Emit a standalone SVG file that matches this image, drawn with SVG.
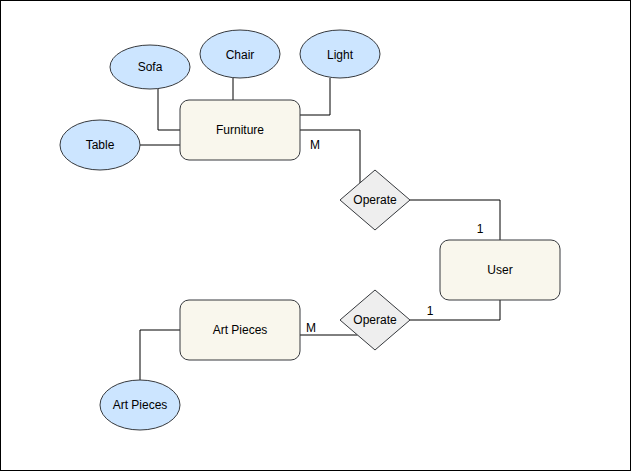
<svg xmlns="http://www.w3.org/2000/svg" width="631" height="471" viewBox="0 0 631 471">
<style>
text{font-family:"Liberation Sans",Arial,Helvetica,sans-serif;font-size:12px;fill:#000}
.c{text-anchor:middle;dominant-baseline:central}
.attr{fill:#cce5ff;stroke:#36393d;stroke-width:1}
.ent{fill:#f9f7ed;stroke:#36393d;stroke-width:1}
.rel{fill:#eeeeee;stroke:#36393d;stroke-width:1}
.ln{fill:none;stroke:#000;stroke-width:1}
</style>
<rect x="0.5" y="0.5" width="630" height="470" fill="#fff" stroke="#000" stroke-width="1"/>
<g id="connectors">
<polyline class="ln" points="158,89 158,130 180,130"/>
<polyline class="ln" points="233,78 233,100"/>
<polyline class="ln" points="330,78 330,115 300,115"/>
<polyline class="ln" points="140,145 180,145"/>
<polyline class="ln" points="300,130 360,130 360,183"/>
<polyline class="ln" points="410,200 500,200 500,240"/>
<polyline class="ln" points="500,300 500,320 410,320"/>
<polyline class="ln" points="300,335 357.5,335"/>
<polyline class="ln" points="180,330 140,330 140,380"/>
</g>
<g id="sofa"><ellipse class="attr" cx="150" cy="67" rx="40" ry="22"/><text class="c" x="150" y="67">Sofa</text></g>
<g id="chair"><ellipse class="attr" cx="240" cy="54" rx="40" ry="24"/><text class="c" x="240" y="55">Chair</text></g>
<g id="light"><ellipse class="attr" cx="340" cy="54" rx="40" ry="24"/><text class="c" x="340" y="55">Light</text></g>
<g id="table"><ellipse class="attr" cx="100" cy="145" rx="40" ry="25"/><text class="c" x="100" y="145">Table</text></g>
<g id="furniture"><rect class="ent" x="180" y="100" width="120" height="60" rx="9"/><text class="c" x="240" y="130">Furniture</text></g>
<g id="operate1"><polygon class="rel" points="375,170 410,200 375,230 340,200"/><text class="c" x="375" y="200">Operate</text></g>
<g id="user"><rect class="ent" x="440" y="240" width="120" height="60" rx="9"/><text class="c" x="500" y="270">User</text></g>
<g id="operate2"><polygon class="rel" points="375,290 410,320 375,350 340,320"/><text class="c" x="375" y="320">Operate</text></g>
<g id="artpieces"><rect class="ent" x="180" y="300" width="120" height="60" rx="9"/><text class="c" x="240" y="330">Art Pieces</text></g>
<g id="artpieces-attr"><ellipse class="attr" cx="140" cy="405" rx="40" ry="25"/><text class="c" x="140" y="405">Art Pieces</text></g>
<g id="labels">
<text class="c" x="315" y="145">M</text>
<text class="c" x="480" y="229">1</text>
<text class="c" x="430" y="311">1</text>
<text class="c" x="311" y="328">M</text>
</g>
</svg>
